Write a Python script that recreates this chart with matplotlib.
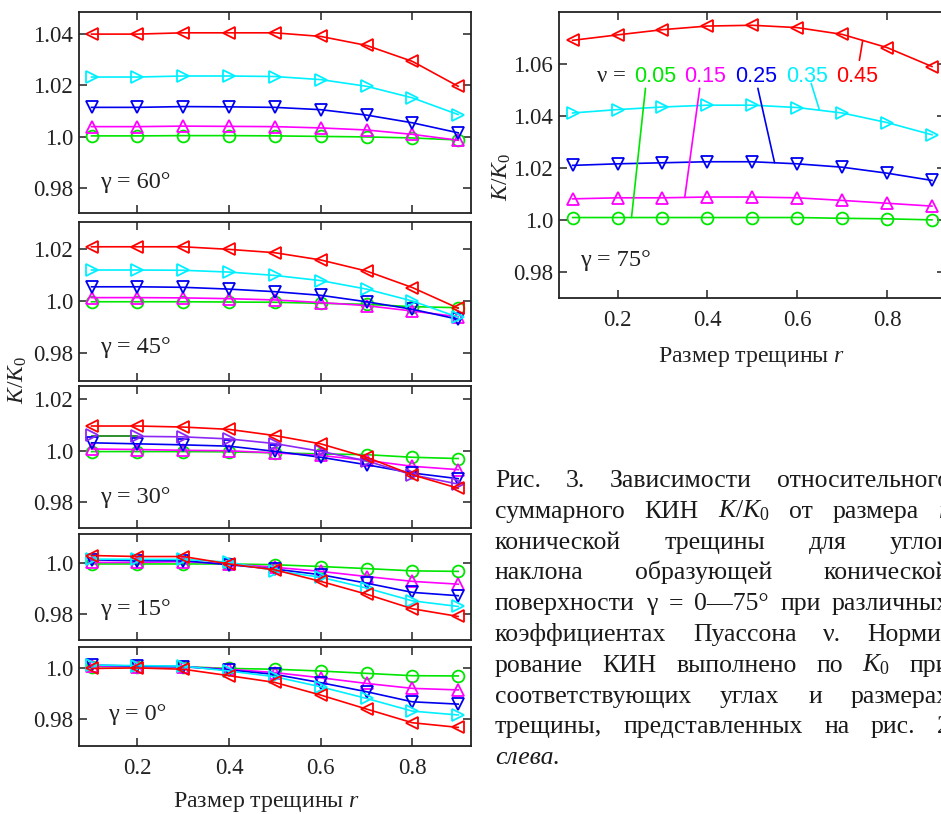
import numpy as np
import matplotlib
matplotlib.use('Agg')
import matplotlib.pyplot as plt

plt.rcParams['font.family'] = ['Liberation Serif', 'DejaVu Serif']
plt.rcParams['mathtext.fontset'] = 'custom'
plt.rcParams['mathtext.rm'] = 'Liberation Serif'
plt.rcParams['mathtext.it'] = 'Liberation Serif:italic'

# ---------------- data ----------------
r = [0.1, 0.2, 0.3, 0.4, 0.5, 0.6, 0.7, 0.8, 0.9]
nu_labels = ['0.05', '0.15', '0.25', '0.35', '0.45']
colors = ['#00e600', '#ff00ff', '#0000f0', '#00f0ff', '#ff0000']
markers = ['o', '^', 'v', '>', '<']

# order of each list: nu = 0.05, 0.15, 0.25, 0.35, 0.45
gamma75 = [
    [1.0009, 1.0009, 1.0009, 1.0009, 1.0009, 1.0009, 1.0006, 1.0004, 1.0000],
    [1.0081, 1.0085, 1.0085, 1.0088, 1.0088, 1.0085, 1.0075, 1.0064, 1.0053],
    [1.0210, 1.0216, 1.0220, 1.0224, 1.0224, 1.0216, 1.0203, 1.0180, 1.0152],
    [1.0412, 1.0425, 1.0435, 1.0442, 1.0442, 1.0433, 1.0412, 1.0375, 1.0328],
    [1.0692, 1.0713, 1.0733, 1.0747, 1.0750, 1.0741, 1.0715, 1.0664, 1.0591],
]
gamma60 = [
    [1.0003, 1.0003, 1.0004, 1.0004, 1.0003, 1.0001, 0.9999, 0.9995, 0.9987],
    [1.0039, 1.0039, 1.0041, 1.0040, 1.0039, 1.0034, 1.0026, 1.0009, 0.9986],
    [1.0114, 1.0114, 1.0117, 1.0116, 1.0114, 1.0105, 1.0084, 1.0054, 1.0015],
    [1.0232, 1.0232, 1.0236, 1.0236, 1.0234, 1.0222, 1.0196, 1.0151, 1.0086],
    [1.0399, 1.0399, 1.0404, 1.0404, 1.0404, 1.0390, 1.0355, 1.0293, 1.0196],
]
gamma45 = [
    [0.9997, 0.9997, 0.9997, 0.9996, 0.9995, 0.9991, 0.9987, 0.9978, 0.9974],
    [1.0013, 1.0013, 1.0012, 1.0009, 1.0004, 0.9994, 0.9982, 0.9961, 0.9939],
    [1.0055, 1.0055, 1.0053, 1.0046, 1.0036, 1.0022, 0.9997, 0.9968, 0.9929],
    [1.0120, 1.0120, 1.0119, 1.0112, 1.0099, 1.0079, 1.0046, 1.0000, 0.9937],
    [1.0210, 1.0210, 1.0210, 1.0200, 1.0187, 1.0159, 1.0116, 1.0052, 0.9972],
]
gamma30 = [
    [0.9996, 0.9996, 0.9996, 0.9995, 0.9991, 0.9987, 0.9984, 0.9974, 0.9969],
    [1.0006, 1.0004, 1.0001, 0.9999, 0.9991, 0.9981, 0.9962, 0.9939, 0.9926],
    [1.0030, 1.0026, 1.0022, 1.0017, 0.9997, 0.9974, 0.9945, 0.9913, 0.9891],
    [1.0062, 1.0055, 1.0053, 1.0045, 1.0027, 0.9997, 0.9960, 0.9906, 0.9870],
    [1.0095, 1.0095, 1.0091, 1.0082, 1.0058, 1.0026, 0.9974, 0.9906, 0.9854],
]
gamma15 = [
    [0.9997, 0.9997, 0.9997, 0.9997, 0.9994, 0.9987, 0.9979, 0.9970, 0.9968],
    [1.0003, 1.0003, 1.0006, 0.9997, 0.9984, 0.9968, 0.9948, 0.9929, 0.9918],
    [1.0013, 1.0010, 1.0010, 0.9994, 0.9977, 0.9955, 0.9922, 0.9886, 0.9873],
    [1.0016, 1.0015, 1.0015, 1.0004, 0.9971, 0.9945, 0.9903, 0.9853, 0.9831],
    [1.0030, 1.0026, 1.0026, 0.9997, 0.9974, 0.9929, 0.9879, 0.9822, 0.9792],
]
gamma0 = [
    [1.0004, 1.0004, 1.0004, 0.9997, 0.9994, 0.9987, 0.9978, 0.9969, 0.9968],
    [1.0006, 1.0004, 1.0004, 0.9994, 0.9981, 0.9961, 0.9939, 0.9920, 0.9914],
    [1.0010, 1.0006, 1.0004, 0.9991, 0.9974, 0.9942, 0.9907, 0.9868, 0.9859],
    [1.0010, 1.0008, 1.0006, 0.9987, 0.9965, 0.9926, 0.9881, 0.9832, 0.9817],
    [0.9997, 0.9999, 0.9994, 0.9969, 0.9943, 0.9894, 0.9840, 0.9787, 0.9769],
]

left_panels = [
    ('γ = 60°', gamma60, (0.9703, 1.0485), [0.98, 1.0, 1.02, 1.04]),
    ('γ = 45°', gamma45, (0.9690, 1.0306), [0.98, 1.0, 1.02]),
    ('γ = 30°', gamma30, (0.9700, 1.0250), [0.98, 1.0, 1.02]),
    ('γ = 15°', gamma15, (0.9700, 1.0114), [0.98, 1.0]),
    ('γ = 0°', gamma0, (0.9697, 1.0080), [0.98, 1.0]),
]

# ---------------- layout ----------------
W, H = 941, 814
fig = plt.figure(figsize=(W / 100, H / 100), dpi=100)
INK = '#222222'


def pos(l, t, rr, b):
    return [l / W, 1 - b / H, (rr - l) / W, (b - t) / H]


def fmt(v):
    s = f'{v:.2f}'
    return '1.0' if s == '1.00' else s


def style(ax, yticks, ylim, show_x):
    ax.set_xlim(0.072, 0.928)
    ax.set_ylim(*ylim)
    ax.set_yticks(yticks)
    ax.set_yticklabels([fmt(v) for v in yticks])
    ax.set_xticks([0.2, 0.4, 0.6, 0.8])
    if show_x:
        ax.set_xticklabels(['0.2', '0.4', '0.6', '0.8'])
    else:
        ax.set_xticklabels([])
    ax.tick_params(direction='in', length=5.5, width=1.1, top=True, right=True,
                   labelsize=16.5, colors=INK)
    ax.tick_params(axis='y', pad=4)
    ax.tick_params(axis='x', pad=9)
    for sp in ax.spines.values():
        sp.set_linewidth(1.3)
        sp.set_color(INK)


def draw_series(ax, data, override=None, skip_first_seg=()):
    for i, ys in enumerate(data):
        c = colors[i]
        if override and i in override:
            c = override[i]
        start = 1 if i in skip_first_seg else 0
        ax.plot(r[start:], ys[start:], color=c, lw=1.2)
        ax.plot(r, ys, color=c, lw=0, marker=markers[i], ms=8.5,
                mfc='none', mec=c, mew=1.3)


tops = [(12, 213), (222, 381), (386, 528), (534, 640), (647, 746)]
for k, ((label, data, ylim, yt), (t, b)) in enumerate(zip(left_panels, tops)):
    ax = fig.add_axes(pos(78.7, t, 471, b))
    if label == 'γ = 30°':
        draw_series(ax, data, override={3: '#8c28f5'}, skip_first_seg=(3,))
        ax.plot(r[:2], [data[3][1], data[3][1]], color='#0a7a0a', lw=1.2, zorder=1)
    else:
        draw_series(ax, data)
    style(ax, yt, ylim, k == 4)
    xt = 0.136 if label == 'γ = 0°' else 0.118
    ax.text(xt, 0.982, label, fontsize=17.5, va='center', ha='left', color=INK)

# right panel
axr = fig.add_axes(pos(558.7, 12.3, 945, 297.7))
draw_series(axr, gamma75)
style(axr, [0.98, 1.0, 1.02, 1.04, 1.06], (0.970, 1.080), True)
axr.set_xlim(0.069, 0.929)
axr.text(0.116, 0.9843, 'γ = 75°', fontsize=17.5, va='center', ha='left', color=INK)

# legend labels with leader lines
fig.text(597 / W, 1 - 82 / H, 'ν =', fontsize=16.5, va='baseline', ha='left', color=INK)
lab_x = [634, 684, 735, 786, 836]
for i in range(5):
    fig.text(lab_x[i] / W, 1 - 82 / H, nu_labels[i], fontsize=15.5, va='baseline',
             ha='left', color=colors[i], family='Liberation Sans')
leader_top = [(0.2622, 1.0507), (0.3829, 1.0507), (0.5124, 1.0507), (0.6311, 1.0526), (0.7384, 1.0615)]
leader_x = [0.2311, 0.3496, 0.5496, 0.6496, 0.7458]
for i in range(5):
    yb = float(np.interp(leader_x[i], r, gamma75[i]))
    axr.annotate('', xy=(leader_x[i], yb), xytext=leader_top[i],
                 arrowprops=dict(arrowstyle='-', color=colors[i], lw=1.2,
                                 shrinkA=0, shrinkB=0))

# axis labels
fig.text(267 / W, 1 - 802 / H, 'Размер трещины $r$', fontsize=17.2, ha='center', va='center',
         color=INK)
fig.text(752 / W, 1 - 357 / H, 'Размер трещины $r$', fontsize=17.2, ha='center', va='center',
         color=INK)
fig.text(18 / W, 1 - 380 / H, '$K/K_0$', fontsize=17, rotation=90, ha='center', va='center',
         color=INK)
fig.text(502 / W, 1 - 177 / H, '$K/K_0$', fontsize=17, rotation=90, ha='center', va='center',
         color=INK)

# caption (justified)
caption = [
    'Рис. 3. Зависимости относительного',
    'суммарного КИН $K$/$K_0$ от размера $r$',
    'конической трещины для углов',
    'наклона образующей конической',
    'поверхности γ = 0—75° при различных',
    'коэффициентах Пуассона ν. Норми-',
    'рование КИН выполнено по $K_0$ при',
    'соответствующих углах и размерах',
    'трещины, представленных на рис. 2',
]
last_line = 'слева.'
cap_fs = 18.5
x0, x1 = 495, 950
renderer = fig.canvas.get_renderer()
for li, line in enumerate(caption):
    yb = 1 - (487 + 30.8 * li) / H
    words = line.split(' ')
    objs = [fig.text(0, yb, w_, fontsize=cap_fs, va='baseline', ha='left', color='#1a1a1a')
            for w_ in words]
    widths = [o.get_window_extent(renderer).width for o in objs]
    gap = (x1 - x0 - sum(widths)) / (len(words) - 1)
    x = x0
    for o, wd in zip(objs, widths):
        o.set_x(x / W)
        x += wd + gap
fig.text(x0 / W, 1 - (487 + 30.8 * 9) / H, last_line, fontsize=cap_fs, va='baseline',
         ha='left', style='italic', color='#1a1a1a')

fig.savefig('out.png', dpi=100)
